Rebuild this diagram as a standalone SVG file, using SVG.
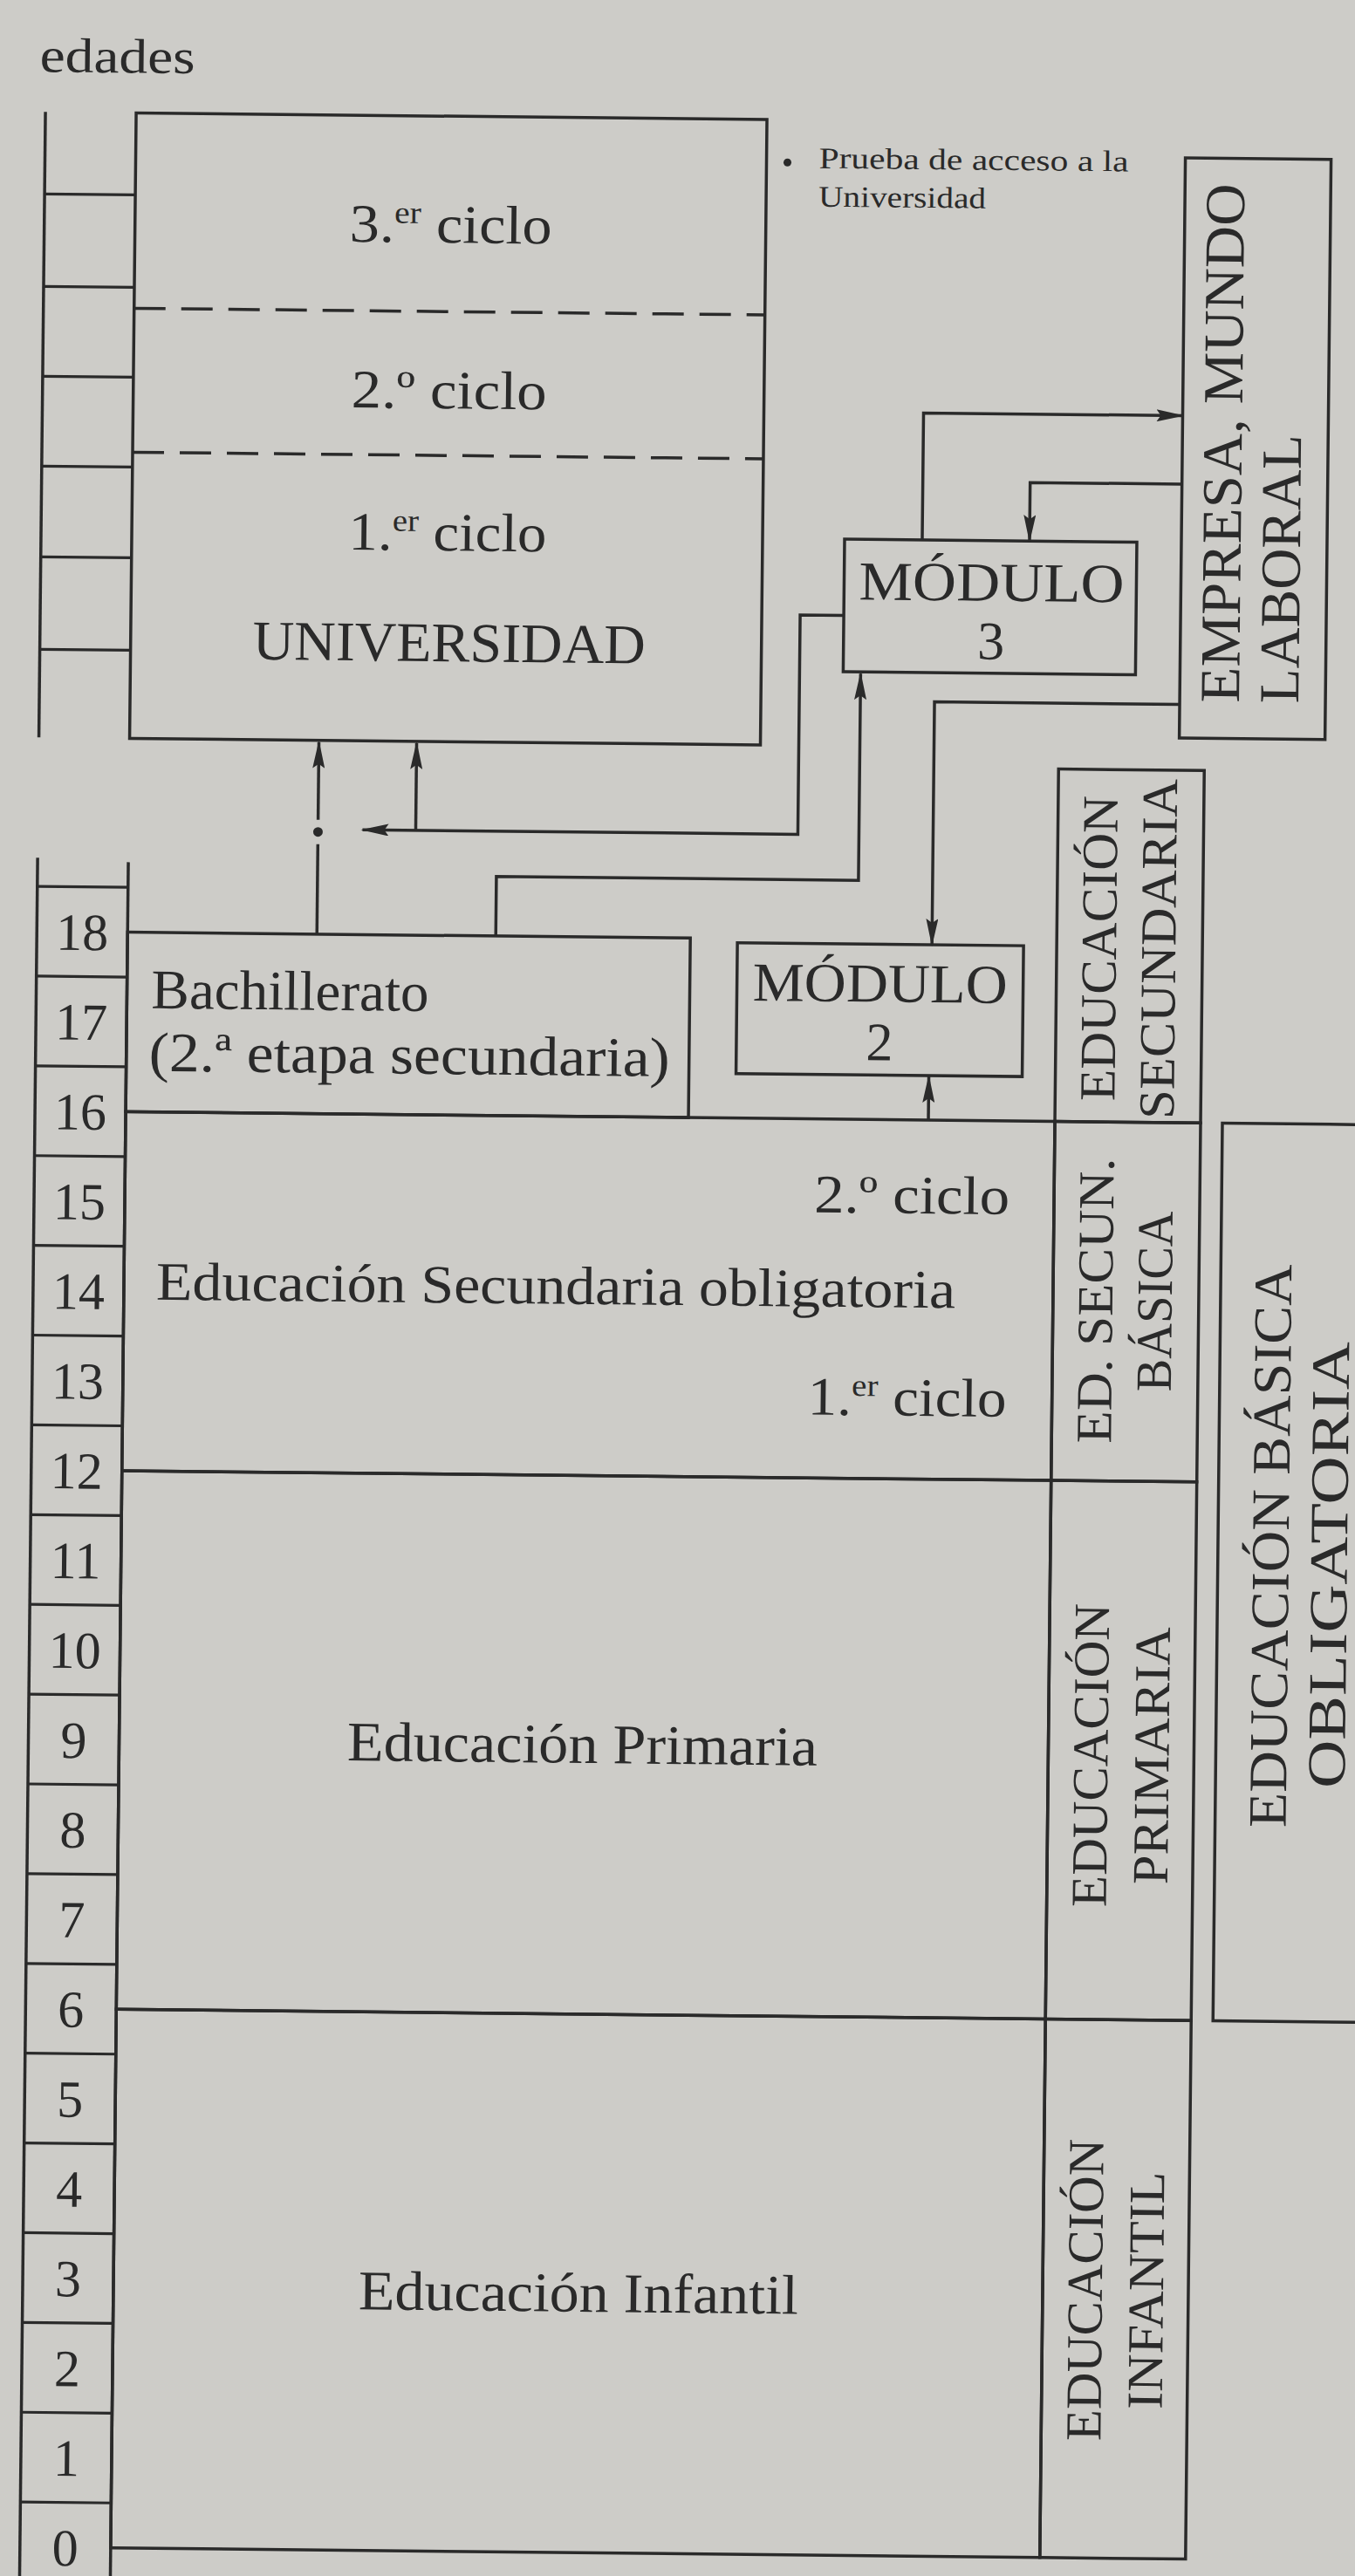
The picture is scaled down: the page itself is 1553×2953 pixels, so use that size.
<svg xmlns="http://www.w3.org/2000/svg" width="1553" height="2953" viewBox="0 0 1553 2953">
<defs>
<marker id="arr" markerUnits="userSpaceOnUse" markerWidth="32" markerHeight="14" viewBox="0 0 32 14" refX="30" refY="7" orient="auto">
<path d="M0,0 L32,7 L0,14 L5,7 z" fill="#2a2a2a"/>
</marker>
<style>
.ln{stroke:#2a2a2a;stroke-width:3.5;fill:none}
.tk{stroke:#2a2a2a;stroke-width:3.2;fill:none}
.ds{stroke:#2a2a2a;stroke-width:3.5;fill:none;stroke-dasharray:36 18}
.tx{font-family:"Liberation Serif","Times New Roman",serif;fill:#2a2a2a}
.ar{marker-end:url(#arr)}
.num{font-family:"Liberation Serif","Times New Roman",serif;fill:#2a2a2a;font-size:60px;text-anchor:middle}
.col{font-family:"Liberation Serif","Times New Roman",serif;fill:#2a2a2a;font-size:58px;text-anchor:middle}
</style>
</defs>
<rect x="0" y="0" width="1553" height="2953" fill="#cdccc8"/>
<g transform="rotate(0.6 776 1476)">

<text class="tx" x="31" y="90" font-size="56" textLength="178" lengthAdjust="spacingAndGlyphs">edades</text>

<g id="eje-superior">
<line class="ln" x1="38" y1="136" x2="38" y2="853"/>
<line class="tk" x1="38" y1="230" x2="142" y2="230"/>
<line class="tk" x1="38" y1="336" x2="142" y2="336"/>
<line class="tk" x1="38" y1="439" x2="142" y2="439"/>
<line class="tk" x1="38" y1="542" x2="142" y2="542"/>
<line class="tk" x1="38" y1="646" x2="142" y2="646"/>
<line class="tk" x1="38" y1="752" x2="142" y2="752"/>
</g>

<g id="universidad">
<rect class="ln" x="142" y="136" width="723" height="717"/>
<line class="ds" x1="142" y1="360" x2="865" y2="360"/>
<line class="ds" x1="142" y1="525" x2="865" y2="525"/>
<text class="tx" x="504" y="281" font-size="62" text-anchor="middle" textLength="232" lengthAdjust="spacingAndGlyphs">3.<tspan font-size="36" dy="-22">er</tspan><tspan dy="22"> ciclo</tspan></text>
<text class="tx" x="504" y="471" font-size="62" text-anchor="middle" textLength="224" lengthAdjust="spacingAndGlyphs">2.º ciclo</text>
<text class="tx" x="504" y="634" font-size="62" text-anchor="middle" textLength="227" lengthAdjust="spacingAndGlyphs">1.<tspan font-size="36" dy="-22">er</tspan><tspan dy="22"> ciclo</tspan></text>
<text class="tx" x="507" y="761" font-size="64" text-anchor="middle" textLength="450" lengthAdjust="spacingAndGlyphs">UNIVERSIDAD</text>
</g>

<g id="nota">
<circle cx="889" cy="185" r="4.5" fill="#2a2a2a"/>
<text class="tx" x="925" y="191" font-size="34" textLength="355" lengthAdjust="spacingAndGlyphs">Prueba de acceso a la</text>
<text class="tx" x="925" y="235" font-size="34" textLength="192" lengthAdjust="spacingAndGlyphs">Universidad</text>
</g>

<g id="empresa">
<rect class="ln" x="1345" y="175" width="167" height="665"/>
<text class="tx" transform="translate(1413 799) rotate(-90)" font-size="65" textLength="595" lengthAdjust="spacingAndGlyphs">EMPRESA, MUNDO</text>
<text class="tx" transform="translate(1481 799) rotate(-90)" font-size="65" textLength="308" lengthAdjust="spacingAndGlyphs">LABORAL</text>
</g>

<g id="modulo3">
<rect class="ln" x="959" y="616" width="335" height="152"/>
<text class="tx" x="1128" y="685" font-size="63" text-anchor="middle" textLength="304" lengthAdjust="spacingAndGlyphs">MÓDULO</text>
<text class="tx" x="1128" y="752" font-size="62" text-anchor="middle">3</text>
</g>

<g id="modulo2">
<rect class="ln" x="841" y="1080" width="328" height="150"/>
<text class="tx" x="1005" y="1146" font-size="63" text-anchor="middle" textLength="292" lengthAdjust="spacingAndGlyphs">MÓDULO</text>
<text class="tx" x="1005" y="1213" font-size="62" text-anchor="middle">2</text>
</g>

<g id="eje-inferior">
<line class="ln" x1="38" y1="991" x2="38" y2="3000"/>
<line class="ln" x1="142" y1="995" x2="142" y2="3000"/>
<line class="tk" x1="38" y1="1023.75" x2="142" y2="1023.75"/>
<line class="tk" x1="38" y1="1126.65" x2="142" y2="1126.65"/>
<line class="tk" x1="38" y1="1229.55" x2="142" y2="1229.55"/>
<line class="tk" x1="38" y1="1332.45" x2="142" y2="1332.45"/>
<line class="tk" x1="38" y1="1435.35" x2="142" y2="1435.35"/>
<line class="tk" x1="38" y1="1538.25" x2="142" y2="1538.25"/>
<line class="tk" x1="38" y1="1641.15" x2="142" y2="1641.15"/>
<line class="tk" x1="38" y1="1744.05" x2="142" y2="1744.05"/>
<line class="tk" x1="38" y1="1846.95" x2="142" y2="1846.95"/>
<line class="tk" x1="38" y1="1949.85" x2="142" y2="1949.85"/>
<line class="tk" x1="38" y1="2052.75" x2="142" y2="2052.75"/>
<line class="tk" x1="38" y1="2155.65" x2="142" y2="2155.65"/>
<line class="tk" x1="38" y1="2258.55" x2="142" y2="2258.55"/>
<line class="tk" x1="38" y1="2361.45" x2="142" y2="2361.45"/>
<line class="tk" x1="38" y1="2464.35" x2="142" y2="2464.35"/>
<line class="tk" x1="38" y1="2567.25" x2="142" y2="2567.25"/>
<line class="tk" x1="38" y1="2670.15" x2="142" y2="2670.15"/>
<line class="tk" x1="38" y1="2773.05" x2="142" y2="2773.05"/>
<line class="tk" x1="38" y1="2875.95" x2="142" y2="2875.95"/>
<line class="tk" x1="38" y1="2978.85" x2="142" y2="2978.85"/>
<text class="num" x="90" y="1096.2">18</text>
<text class="num" x="90" y="1199.1">17</text>
<text class="num" x="90" y="1302">16</text>
<text class="num" x="90" y="1404.9">15</text>
<text class="num" x="90" y="1507.8">14</text>
<text class="num" x="90" y="1610.7">13</text>
<text class="num" x="90" y="1713.6">12</text>
<text class="num" x="90" y="1816.5">11</text>
<text class="num" x="90" y="1919.4">10</text>
<text class="num" x="90" y="2022.3">9</text>
<text class="num" x="90" y="2125.2">8</text>
<text class="num" x="90" y="2228.1">7</text>
<text class="num" x="90" y="2331">6</text>
<text class="num" x="90" y="2433.9">5</text>
<text class="num" x="90" y="2536.8">4</text>
<text class="num" x="90" y="2639.7">3</text>
<text class="num" x="90" y="2742.6">2</text>
<text class="num" x="90" y="2845.5">1</text>
<text class="num" x="90" y="2948.4">0</text>
</g>

<g id="bachillerato">
<rect class="ln" x="142" y="1075.2" width="645" height="205.8"/>
<text class="tx" x="170" y="1162" font-size="64" textLength="318" lengthAdjust="spacingAndGlyphs">Bachillerato</text>
<text class="tx" x="168" y="1234" font-size="64" textLength="597" lengthAdjust="spacingAndGlyphs">(2.ª etapa secundaria)</text>
</g>

<g id="eso">
<rect class="ln" x="142" y="1281" width="1065" height="411.6"/>
<text class="tx" x="1156" y="1388" font-size="62" text-anchor="end" textLength="224" lengthAdjust="spacingAndGlyphs">2.º ciclo</text>
<text class="tx" x="179" y="1496" font-size="62" textLength="916" lengthAdjust="spacingAndGlyphs">Educación Secundaria obligatoria</text>
<text class="tx" x="1155" y="1620" font-size="62" text-anchor="end" textLength="228" lengthAdjust="spacingAndGlyphs">1.<tspan font-size="36" dy="-22">er</tspan><tspan dy="22"> ciclo</tspan></text>
</g>

<g id="primaria">
<rect class="ln" x="142" y="1692.6" width="1065" height="617.4"/>
<text class="tx" x="673" y="2022" font-size="64" text-anchor="middle" textLength="539" lengthAdjust="spacingAndGlyphs">Educación Primaria</text>
</g>

<g id="infantil">
<rect class="ln" x="142" y="2310" width="1065" height="617.4"/>
<text class="tx" x="675" y="2651" font-size="64" text-anchor="middle" textLength="504" lengthAdjust="spacingAndGlyphs">Educación Infantil</text>
</g>

<g id="col-educacion-secundaria">
<rect class="ln" x="1207" y="877" width="167" height="404"/>
<text class="col" transform="translate(1275 1082) rotate(-90)" textLength="350" lengthAdjust="spacingAndGlyphs">EDUCACIÓN</text>
<text class="col" transform="translate(1343 1082) rotate(-90)" textLength="390" lengthAdjust="spacingAndGlyphs">SECUNDARIA</text>
</g>

<g id="col-ed-secun-basica">
<rect class="ln" x="1207" y="1281" width="167" height="411.6"/>
<text class="col" transform="translate(1275 1486) rotate(-90)" textLength="327" lengthAdjust="spacingAndGlyphs">ED. SECUN.</text>
<text class="col" transform="translate(1343 1486) rotate(-90)" textLength="207" lengthAdjust="spacingAndGlyphs">BÁSICA</text>
</g>

<g id="col-educacion-primaria">
<rect class="ln" x="1207" y="1692.6" width="167" height="617.4"/>
<text class="col" transform="translate(1275 2007) rotate(-90)" textLength="348" lengthAdjust="spacingAndGlyphs">EDUCACIÓN</text>
<text class="col" transform="translate(1345 2007) rotate(-90)" textLength="295" lengthAdjust="spacingAndGlyphs">PRIMARIA</text>
</g>

<g id="col-educacion-infantil">
<rect class="ln" x="1207" y="2310" width="167" height="617.4"/>
<text class="col" transform="translate(1275 2620) rotate(-90)" textLength="346" lengthAdjust="spacingAndGlyphs">EDUCACIÓN</text>
<text class="col" transform="translate(1345 2620) rotate(-90)" textLength="272" lengthAdjust="spacingAndGlyphs">INFANTIL</text>
</g>

<g id="educacion-basica-obligatoria">
<rect class="ln" x="1399" y="1281" width="220" height="1029"/>
<text class="tx" transform="translate(1480 1765) rotate(-90)" font-size="62" text-anchor="middle" textLength="646" lengthAdjust="spacingAndGlyphs">EDUCACIÓN BÁSICA</text>
<text class="tx" transform="translate(1547 1786) rotate(-90)" font-size="62" text-anchor="middle" textLength="512" lengthAdjust="spacingAndGlyphs">OBLIGATORIA</text>
</g>

<g id="conectores">
<line class="ln" x1="359" y1="1075" x2="359" y2="972"/>
<circle cx="359" cy="958" r="5.5" fill="#2a2a2a"/>
<line class="ln ar" x1="359" y1="944" x2="359" y2="855"/>
<line class="ln ar" x1="471" y1="955" x2="471" y2="855"/>
<polyline class="ln ar" points="959,703.5 909,703.5 909,955 410,955"/>
<polyline class="ln ar" points="564,1075 564,1007 979,1007 979,770"/>
<polyline class="ln ar" points="1048,616 1048,470.5 1345,470.5"/>
<polyline class="ln ar" points="1345,549 1171,549 1171,616"/>
<polyline class="ln ar" points="1345,801.5 1064,801.5 1064,1080"/>
<line class="ln ar" x1="1062" y1="1281" x2="1062" y2="1231"/>
</g>

</g>
</svg>
